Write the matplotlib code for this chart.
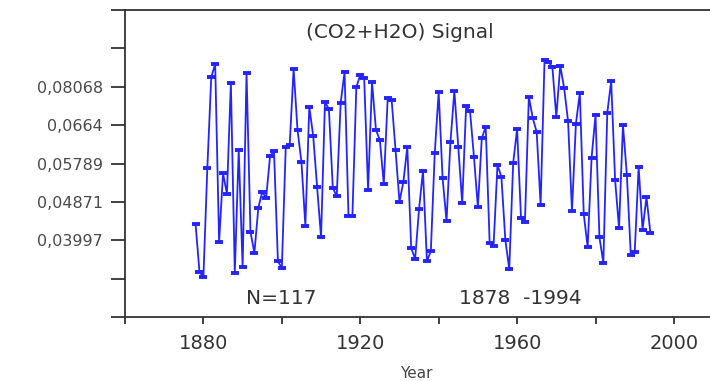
import numpy as np
import matplotlib.pyplot as plt

# annual (CO2+H2O) signal, 1878-1994
years = np.arange(1878, 1995)
signal = [0.0437, 0.0327, 0.0316, 0.0566, 0.0774, 0.0804, 0.0396, 0.0554, 0.0506, 0.0761,
          0.0325, 0.0607, 0.0339, 0.0784, 0.0419, 0.0371, 0.0474, 0.0511, 0.0497, 0.0593,
          0.0605, 0.0352, 0.0336, 0.0614, 0.0618, 0.0793, 0.0653, 0.0579, 0.0433, 0.0706,
          0.0639, 0.0522, 0.0407, 0.0717, 0.0701, 0.0520, 0.0501, 0.0715, 0.0786, 0.0456,
          0.0456, 0.0751, 0.0779, 0.0772, 0.0515, 0.0763, 0.0653, 0.0630, 0.0529, 0.0726,
          0.0722, 0.0607, 0.0488, 0.0534, 0.0614, 0.0382, 0.0357, 0.0472, 0.0559, 0.0352,
          0.0375, 0.0600, 0.0740, 0.0543, 0.0444, 0.0625, 0.0742, 0.0614, 0.0485, 0.0708,
          0.0696, 0.0591, 0.0476, 0.0634, 0.0660, 0.0394, 0.0387, 0.0573, 0.0545, 0.0401,
          0.0334, 0.0577, 0.0655, 0.0451, 0.0442, 0.0729, 0.0680, 0.0648, 0.0481, 0.0813,
          0.0809, 0.0797, 0.0683, 0.0800, 0.0749, 0.0673, 0.0467, 0.0667, 0.0738, 0.0460,
          0.0384, 0.0589, 0.0687, 0.0407, 0.0348, 0.0692, 0.0765, 0.0538, 0.0428, 0.0664,
          0.0550, 0.0366, 0.0373, 0.0568, 0.0424, 0.0499, 0.0417]

# y ticks are evenly spaced, only the middle ones carry labels
ytick_pos = [0.0224 + 0.0088 * k for k in range(9)]
ytick_labels = ['', '', '0,03997', '0,04871', '0,05789', '0,0664', '0,08068', '', '']
xtick_major = [1880, 1920, 1960, 2000]
xtick_minor = [1860, 1900, 1940, 1980]

fig = plt.figure(figsize=(7.1, 3.81), dpi=100)
ax = fig.add_axes([125/710, 64/381, 585/710, 307/381])

ax.plot(years, signal, color='#2424ff', lw=1.3, marker='_', ms=6, mew=2.8)

ax.set_xlim(1860, 2009.2)
ax.set_ylim(ytick_pos[0], ytick_pos[-1])
ax.set_yticks(ytick_pos)
ax.set_yticklabels(ytick_labels)
ax.set_xticks(xtick_major)
ax.set_xticks(xtick_minor, minor=True)

ax.spines['right'].set_visible(False)
for s in ['left', 'bottom', 'top']:
    ax.spines[s].set_linewidth(1.3)
    ax.spines[s].set_color('#333333')
ax.tick_params(axis='y', length=10, width=1.3, color='#333333', pad=6,
               labelsize=11.5, labelcolor='#4a4a4a')
ax.tick_params(axis='x', which='both', length=5, width=1.3, color='#333333')
ax.tick_params(axis='x', pad=7, labelsize=14, labelcolor='#333333')

ax.text(0.47, 0.928, '(CO2+H2O) Signal', transform=ax.transAxes,
        ha='center', va='center', fontsize=14.5, color='#333333')
ax.text(0.267, 0.059, 'N=117', transform=ax.transAxes,
        ha='center', va='center', fontsize=14.5, color='#333333')
ax.text(0.675, 0.059, '1878  -1994', transform=ax.transAxes,
        ha='center', va='center', fontsize=14.5, color='#333333')
fig.text(416/710, 8/381, 'Year', ha='center', va='center', fontsize=11, color='#444444')

fig.savefig('out.png', dpi=100)
